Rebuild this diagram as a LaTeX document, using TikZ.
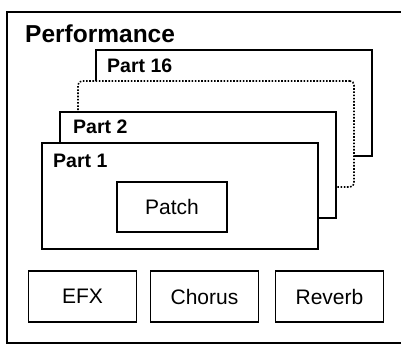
\documentclass[tikz,border=0pt]{standalone}
\usepackage{fontspec}
\setmainfont{Liberation Sans}
\usepackage{tikz}
\usetikzlibrary{
    arrows.meta,
    positioning,
    calc
}
\usepackage{xcolor}
\tikzstyle{part} = [
    rectangle,
    draw=black,
    fill=white,
    line width=1.5pt,
    minimum width=276pt,
    minimum height=106pt,
    inner sep=0pt
]
\tikzstyle{ghostpart} = [
    part,
    line width=1.6pt,
    dash pattern=on 1.6pt off 1.6pt,
    rounded corners=4pt
]
\tikzstyle{patchbox} = [
    rectangle,
    draw=black,
    fill=white,
    line width=1.3pt,
    minimum width=110pt,
    minimum height=50pt,
    inner sep=0pt,
    font=\fontsize{21}{24}\selectfont
]
\tikzstyle{effect} = [
    patchbox,
    minimum width=108pt,
    minimum height=51pt
]
\tikzstyle{partlabel} = [
    anchor=base west,
    inner sep=0pt,
    font=\fontsize{19.5}{22}\selectfont\bfseries
]

\begin{document}
\begin{tikzpicture}[x=1pt, y=-1pt]
        \useasboundingbox[fill=white] (0,0) rectangle (401,345);

        % Performance frame (runs off on the right)
        \draw[line width=1.5pt] (401,12) -| (7,343) -- (401,343);
        \node[partlabel, font=\fontsize{24.5}{27}\selectfont\bfseries] (perf) at (25,42) {Performance};

        % Part 16 (back)
        \node[part] (part16) at (234,103) {};
        \node[partlabel] (part16lbl) at (107,72) {Part 16};

        % Parts in between
        \node[ghostpart] (partdots) at (216,134) {};

        % Part 2
        \node[part] (part2) at (198,165) {};
        \node[partlabel] (part2lbl) at (73,133) {Part 2};

        % Part 1 (front)
        \node[part] (part1) at (180,196) {};
        \node[partlabel] (part1lbl) at (53,167) {Part 1};

        \node[patchbox] (patch) at (172,207) {Patch};

        % Effects row
        \node[effect] (efx) at (82.5,296.5) {EFX};
        \node[effect] (chorus) at (204.5,296.5) {Chorus};
        \node[effect] (reverb) at (329.5,296.5) {Reverb};
    \end{tikzpicture}
\end{document}
